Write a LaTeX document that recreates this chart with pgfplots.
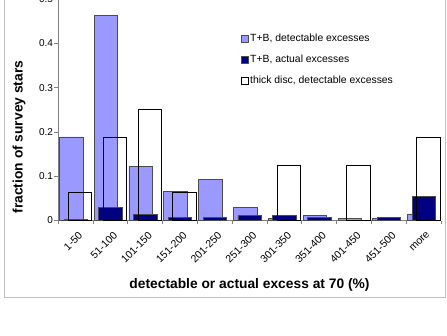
\documentclass[border=0pt]{standalone}
\usepackage{pgfplots}
\pgfplotsset{compat=1.18}
\usepackage{fontspec}
\setmainfont{Liberation Sans}
\definecolor{bluebar}{HTML}{9999FF}
\definecolor{navybar}{HTML}{000080}
\definecolor{framegray}{HTML}{C0C0C0}
\definecolor{axgray}{HTML}{808080}
\begin{document}
\begin{tikzpicture}[x=1pt,y=1pt]
\useasboundingbox (0,0) rectangle (447,335);
\clip (0,0) rectangle (447,335);
\fill[white] (0,0) rectangle (447,335);
\draw[framegray, line width=1pt] (4.5,37.5) rectangle (445,345);
\begin{axis}[
  at={(58pt,114.5pt)}, anchor=south west,
  scale only axis, width=383pt, height=221.25pt,
  xmin=-0.5, xmax=10.5, ymin=0, ymax=0.5,
  axis x line*=bottom, axis y line*=left,
  axis line style={axgray, line width=0.8pt},
  xtick={-0.5,0.5,...,10.5},
  x tick label as interval,
  xticklabels={1-50,51-100,101-150,151-200,201-250,251-300,301-350,351-400,401-450,451-500,more},
  xticklabel style={rotate=45, anchor=north east, font=\fontsize{10.5}{12}\selectfont, inner sep=1pt, xshift=-2pt, yshift=-5.5pt},
  ytick={0,0.1,0.2,0.3,0.4,0.5},
  yticklabel style={font=\fontsize{10}{12}\selectfont, xshift=2pt},
  /pgf/number format/assume math mode=true,
  /pgf/number format/fixed, /pgf/number format/precision=1,
  tick align=outside, major tick length=3.5pt,
  tick style={axgray, line width=0.6pt},
  ylabel={fraction of survey stars},
  xlabel={detectable or actual excess at 70 (\%)},
  ylabel style={at={(rel axis cs:-0.1018,0.377)}, anchor=center, font=\fontsize{13.8}{16}\selectfont\bfseries},
  xlabel style={at={(rel axis cs:0.5,-0.2915)}, anchor=center, font=\fontsize{13.8}{16}\selectfont\bfseries},
  legend style={at={(rel axis cs:0.478,0.848)}, anchor=north west, draw=none, fill=none,
    font=\fontsize{10.4}{12}\selectfont, row sep=9.5pt, inner sep=0pt,
    nodes={inner sep=1pt, text height=7.5pt, text depth=2pt, anchor=west}},
  legend cell align=left,
  clip=false,
]
\addplot[ybar, bar width=0.675, bar shift=-0.125, fill=bluebar, draw=black!70, line width=0.6pt,
  legend image code/.code={\draw[fill=bluebar, draw=black!70, line width=0.6pt] (0pt,-3.5pt) rectangle (7pt,3.5pt);}]
  coordinates {(0,0.189) (1,0.464) (2,0.123) (3,0.066) (4,0.093) (5,0.030) (6,0.004) (7,0.011) (8,0.004) (9,0.004) (10,0.015)};
\addlegendentry{T+B, detectable excesses}
\addplot[ybar, bar width=0.675, bar shift=0.005, fill=navybar, draw=black!70, line width=0.6pt,
  legend image code/.code={\draw[fill=navybar, draw=black!70, line width=0.6pt] (0pt,-3.5pt) rectangle (7pt,3.5pt);}]
  coordinates {(0,0.003) (1,0.029) (2,0.014) (3,0.0075) (4,0.0075) (5,0.011) (6,0.011) (7,0.0075) (9,0.0075) (10,0.055)};
\addlegendentry{T+B, actual excesses}
\addplot[ybar, bar width=0.675, bar shift=0.135, fill=none, draw=black, line width=0.9pt,
  legend image code/.code={\draw[fill=white, draw=black, line width=0.9pt] (0pt,-3.5pt) rectangle (7pt,3.5pt);}]
  coordinates {(0,0.0625) (1,0.1875) (2,0.25) (3,0.0625) (6,0.125) (8,0.125) (10,0.1875)};
\addlegendentry{thick disc, detectable excesses}
\end{axis}
\end{tikzpicture}
\end{document}
